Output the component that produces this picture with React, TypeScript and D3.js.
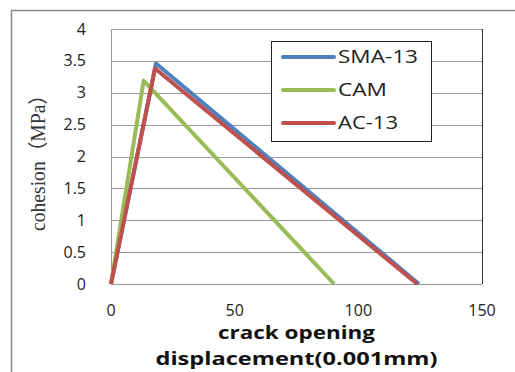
import { useEffect, useRef } from "react";
import * as d3 from "d3";

const seriesNames = ["SMA-13", "CAM", "AC-13"];
const seriesColors = ["#4F81BD", "#9BBB59", "#C0504D"];
const smaX = [0, 18.2, 124.5];
const smaY = [0, 3.46, 0];
const camX = [0, 13.2, 90.2];
const camY = [0, 3.19, 0];
const acX = [0, 17.8, 123.8];
const acY = [0, 3.38, 0];
const xTicks = [0, 50, 100, 150];
const yTicks = [0, 0.5, 1, 1.5, 2, 2.5, 3, 3.5, 4];

export default function App() {
  const ref = useRef<SVGSVGElement>(null);

  useEffect(() => {
    if (!ref.current) return;
    const width = 515;
    const height = 372;
    const margin = { top: 29, right: 33, bottom: 88, left: 111 };
    const font = "'Open Sans', 'Liberation Sans', sans-serif";

    const svg = d3.select(ref.current);
    svg.selectAll("*").remove();
    svg.attr("width", width).attr("height", height);

    svg.append("rect").attr("width", width).attr("height", height).attr("fill", "#fff");

    // outer chart frame
    svg
      .append("path")
      .attr("d", `M11.5,${height} V10.5 H${width}`)
      .attr("fill", "none")
      .attr("stroke", "#868686")
      .attr("stroke-width", 1.5);

    const x = d3.scaleLinear().domain([0, 150]).range([margin.left, width - margin.right]);
    const y = d3.scaleLinear().domain([0, 4]).range([height - margin.bottom, margin.top]);

    svg
      .append("g")
      .attr("stroke", "#9a9a9a")
      .selectAll("line")
      .data(yTicks)
      .join("line")
      .attr("x1", margin.left)
      .attr("x2", width - margin.right)
      .attr("y1", (d) => Math.round(y(d)) + 0.5)
      .attr("y2", (d) => Math.round(y(d)) + 0.5);

    svg
      .append("line")
      .attr("x1", margin.left + 0.5)
      .attr("x2", margin.left + 0.5)
      .attr("y1", y(0))
      .attr("y2", y(4))
      .attr("stroke", "#9a9a9a");

    svg
      .append("line")
      .attr("x1", x(150) + 0.5)
      .attr("x2", x(150) + 0.5)
      .attr("y1", y(0))
      .attr("y2", y(4))
      .attr("stroke", "#333");

    svg
      .append("g")
      .selectAll("text")
      .data(yTicks)
      .join("text")
      .attr("x", 86)
      .attr("y", (d) => y(d))
      .attr("dy", "0.35em")
      .attr("text-anchor", "end")
      .attr("font-family", font)
      .attr("font-size", 16)
      .attr("fill", "#222")
      .text((d) => `${d}`);

    svg
      .append("g")
      .selectAll("text")
      .data(xTicks)
      .join("text")
      .attr("x", (d) => x(d))
      .attr("y", 316)
      .attr("text-anchor", "middle")
      .attr("font-family", font)
      .attr("font-size", 16)
      .attr("fill", "#222")
      .text((d) => `${d}`);

    const allX = [smaX, camX, acX];
    const allY = [smaY, camY, acY];
    allX.forEach((xs, i) => {
      const pts = xs.map((v, j) => [x(v), y(allY[i][j])] as [number, number]);
      svg
        .append("path")
        .attr("d", d3.line()(pts))
        .attr("fill", "none")
        .attr("stroke", seriesColors[i])
        .attr("stroke-width", 4)
        .attr("stroke-linejoin", "round");
    });

    // legend
    const legendWidths = [80, 49, 60];
    const legend = svg.append("g");
    legend
      .append("rect")
      .attr("x", 271.5)
      .attr("y", 41.5)
      .attr("width", 160)
      .attr("height", 100)
      .attr("fill", "#fff")
      .attr("stroke", "#222");
    seriesNames.forEach((name, i) => {
      const ly = 57 + i * 33;
      legend
        .append("line")
        .attr("x1", 283)
        .attr("x2", 334)
        .attr("y1", ly)
        .attr("y2", ly)
        .attr("stroke", seriesColors[i])
        .attr("stroke-width", 4)
        .attr("stroke-linecap", "round");
      legend
        .append("text")
        .attr("x", 338)
        .attr("y", ly)
        .attr("dy", "0.36em")
        .attr("font-family", font)
        .attr("font-size", 18)
        .attr("textLength", legendWidths[i])
        .attr("lengthAdjust", "spacingAndGlyphs")
        .attr("fill", "#222")
        .text(name);
    });

    svg
      .append("text")
      .attr("transform", "translate(45,158) rotate(-90)")
      .attr("text-anchor", "middle")
      .attr("font-family", "'Liberation Serif', 'Noto Sans CJK SC', serif")
      .attr("font-size", 20)
      .attr("textLength", 146)
      .attr("lengthAdjust", "spacingAndGlyphs")
      .attr("fill", "#333")
      .text("cohesion（MPa）");

    const xlabel = [
      { text: "crack opening", y: 339, w: 157 },
      { text: "displacement(0.001mm)", y: 365, w: 282 },
    ];
    xlabel.forEach((l) => {
      svg
        .append("text")
        .attr("x", 296.5)
        .attr("y", l.y)
        .attr("text-anchor", "middle")
        .attr("font-family", font)
        .attr("font-size", 18)
        .attr("font-weight", "bold")
        .attr("textLength", l.w)
        .attr("lengthAdjust", "spacingAndGlyphs")
        .attr("fill", "#111")
        .text(l.text);
    });
  }, []);

  return <svg ref={ref} style={{ position: "absolute", left: 0, top: 0 }} />;
}
